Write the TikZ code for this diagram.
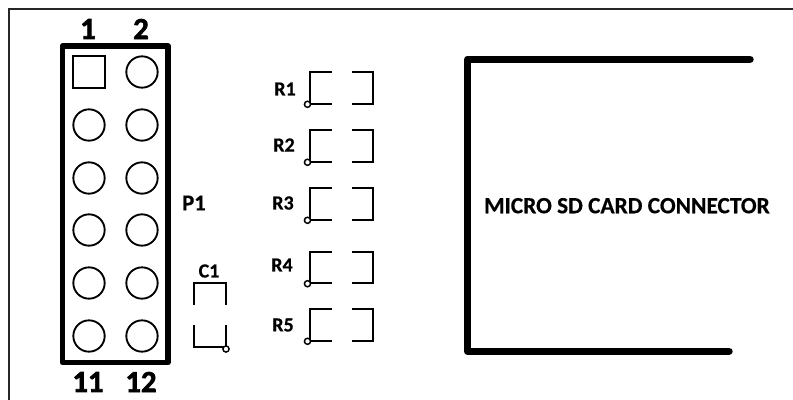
\documentclass[tikz,border=0pt]{standalone}
\usepackage{fontspec}
\setmainfont{Carlito}
\tikzset{
	pad/.style={draw,line width=1.4pt,circle,minimum size=23.5pt,inner sep=0pt},
	padsq/.style={draw,line width=1.4pt,rectangle,minimum size=23.5pt,inner sep=0pt},
	outline/.style={line width=1.4pt,line cap=butt},
	pinone/.style={draw,line width=1.1pt,circle,fill=white,minimum size=4.6pt,inner sep=0pt},
	partlbl/.style={font=\bfseries\addfontfeature{FakeBold=0.6}\fontsize{15}{17}\selectfont,inner sep=0pt},
	numlbl/.style={font=\bfseries\addfontfeature{FakeBold=2}\fontsize{23}{25}\selectfont,inner sep=0pt},
}
\begin{document}
\begin{tikzpicture}[x=0.75pt,y=-0.75pt]
		\useasboundingbox (0,0) rectangle (793,400);
		% board edge
		\draw[line width=1.5pt,black!85] (9,400) -- (9,8.5) -- (793,8.5);
		% P1 header
		\draw[line width=4.2pt,line join=round] (62.5,46) rectangle (168,362.5);
		\node[padsq] (pad1) at (89,72) {};
		\foreach \n/\y in {3/125,5/178,7/230,9/283,11/336}\node[pad] (pad\n) at (89,\y) {};
		\foreach \n/\y in {2/72,4/125,6/178,8/230,10/283,12/336}\node[pad] (pad\n) at (142,\y) {};
		\node[numlbl] (num1) at (88,29) {1};
		\node[numlbl] (num2) at (141,29) {2};
		\node[numlbl] (num11) at (88,382) {11};
		\node[numlbl] (num12) at (141,382) {12};
		\node[partlbl,font=\bfseries\addfontfeature{FakeBold=0.6}\fontsize{17}{19}\selectfont] (p1lbl) at (194,203) {P1};
		% C1
		\node[partlbl] (c1lbl) at (209,271) {C1};
		\draw[outline] (194,305) -- (194,283) -- (226,283) -- (226,305);
		\draw[outline] (194,325) -- (194,347) -- (226,347) -- (226,325);
		\node[pinone] (c1pin) at (226,349) {};
		% R1 to R5
		\foreach \n/\y/\lx/\ly in {1/72.3/285/89,2/130.3/284/145,3/188.3/283/203,4/251.7/282/265,5/309.3/283/325}{
			\draw[outline] (331.5,\y) -- (310,\y) -- (310,\y+31.5) -- (331.5,\y+31.5);
			\draw[outline] (351.5,\y) -- (373.3,\y) -- (373.3,\y+31.5) -- (351.5,\y+31.5);
			\node[pinone] (r\n pin) at (307.5,\y+32) {};
			\node[partlbl] (r\n lbl) at (\lx,\ly) {R\n};
		}
		% card connector
		\draw[line width=5.6pt,line cap=round,line join=round] (750,59.3) -- (467.7,59.3) -- (467.7,351.3) -- (729,351.3);
		\node[font=\bfseries\addfontfeature{FakeBold=0.4}\fontsize{17.5}{20}\selectfont,inner sep=0pt] (sdlbl) at (627,205.7) {MICRO SD CARD CONNECTOR};
		\end{tikzpicture}
\end{document}
